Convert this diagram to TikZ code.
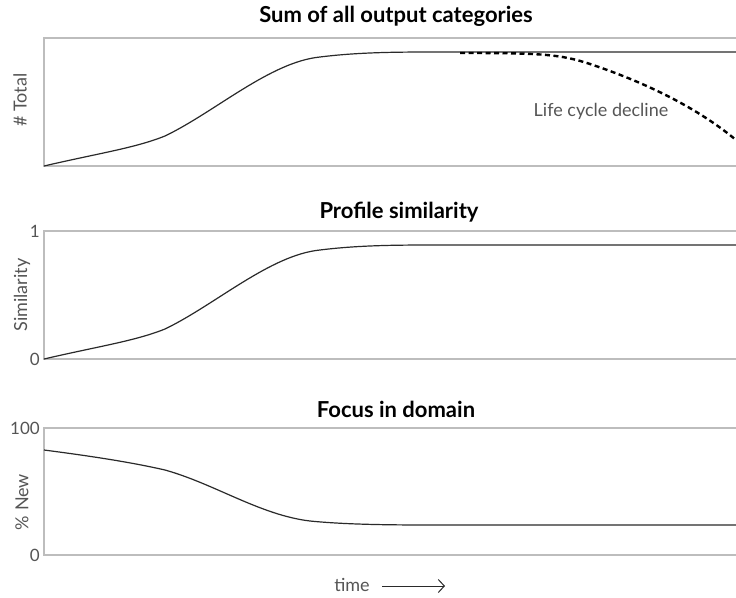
\documentclass[tikz,border=0pt]{standalone}
\usepackage{fontspec}
\setmainfont{Lato}
\usetikzlibrary{arrows.meta}
\definecolor{boxgray}{HTML}{BDBDBD}
\definecolor{labgray}{HTML}{555555}
\definecolor{curve}{HTML}{2A2A2A}
\tikzset{
  frame/.style={draw=boxgray, line width=1.5pt},
  curvestyle/.style={draw=curve, line width=1.2pt},
  declinestyle/.style={draw=black, line width=2.4pt, dash pattern=on 5pt off 3.5pt},
  title/.style={font=\fontsize{22}{26}\selectfont\bfseries, text=black, inner sep=0pt},
  axlab/.style={font=\fontsize{18}{21}\selectfont, text=labgray, inner sep=0pt, rotate=90},
  ticklab/.style={font=\fontsize{17}{20}\selectfont, text=labgray, inner sep=0pt, anchor=east},
  note/.style={font=\fontsize{18}{21}\selectfont, text=labgray, inner sep=0pt}
}
\begin{document}
\begin{tikzpicture}[x=1pt,y=-1pt]
\useasboundingbox (0,0) rectangle (736,597);
\fill[white] (0,0) rectangle (736,597);
% panel 1
\node[title] (t1) at (396,16) {Sum of all output categories};
\draw[frame] (736,38) -- (44,38) -- (44,166) -- (736,166);
\node[axlab] (y1) at (20,100) {\# Total};
\draw[curvestyle] (44,166) .. controls (100,153) and (135,148) .. (165,136)
  .. controls (215,112) and (270,62) .. (320,57)
  .. controls (360,52) and (400,52) .. (440,52) -- (736,52);
\draw[declinestyle] (460,53) .. controls (540,53) and (560,54) .. (590,64)
  .. controls (650,84) and (700,110) .. (736,140);
\node[note] (lcd) at (601,111) {Life cycle decline};
% panel 2
\node[title] (t2) at (399,212) {Profile similarity};
\draw[frame] (736,231) -- (44,231) -- (44,359) -- (736,359);
\node[axlab] (y2) at (22,295) {Similarity};
\node[ticklab] (one) at (40,231) {1};
\node[ticklab] (zero2) at (40,359) {0};
\draw[curvestyle] (44,359) .. controls (100,346) and (135,341) .. (165,329)
  .. controls (215,305) and (270,255) .. (320,250)
  .. controls (360,245) and (400,245) .. (440,245) -- (736,245);
% panel 3
\node[title] (t3) at (396,409) {Focus in domain};
\draw[frame] (736,428) -- (44,428) -- (44,555) -- (736,555);
\node[axlab] (y3) at (22,502) {\% New};
\node[ticklab] (hundred) at (40,428) {100};
\node[ticklab] (zero3) at (40,555) {0};
\draw[curvestyle] (44,450) .. controls (90,456) and (130,462) .. (165,470)
  .. controls (215,484) and (260,515) .. (310,521)
  .. controls (350,525) and (400,525) .. (440,525) -- (736,525);
% time axis
\node[note] (time) at (352,585) {time};
\coordinate (tarr) at (445,586);
\draw[curve, line width=1pt, -{Straight Barb[length=6pt,width=13pt]}] (382,586) -- (tarr);
\end{tikzpicture}
\end{document}
